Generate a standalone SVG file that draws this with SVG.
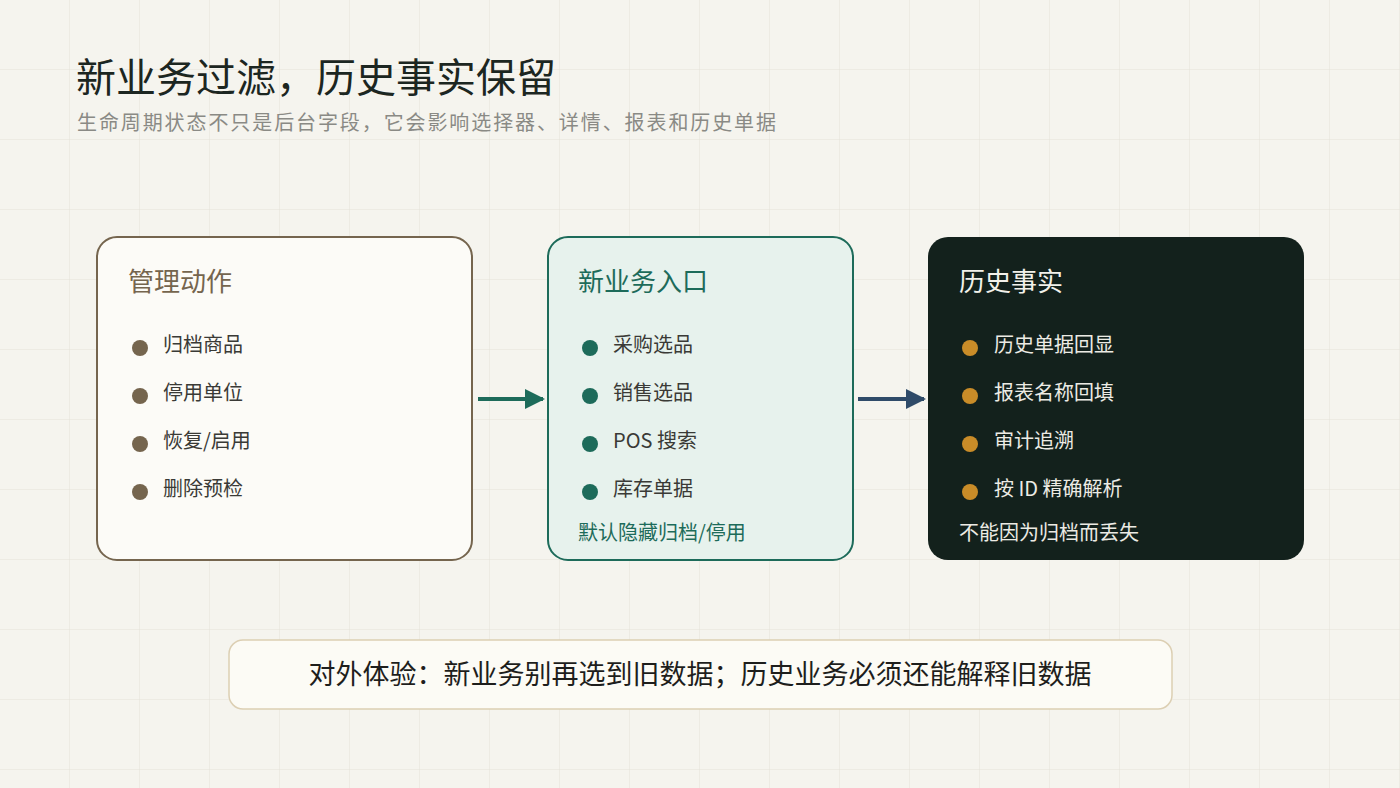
<svg xmlns="http://www.w3.org/2000/svg" width="1400" height="788" viewBox="0 0 1400 788">
<defs>
<pattern id="grid" x="0" y="0" width="70" height="70" patternUnits="userSpaceOnUse">
<path d="M70 0 V70 M0 70 H70" fill="none" stroke="#e4e2d9" stroke-width="1"/>
</pattern>
<marker id="ah-teal" viewBox="0 0 10 10" refX="9" refY="5" markerWidth="5" markerHeight="5" orient="auto" markerUnits="strokeWidth">
<path d="M0 0 L10 5 L0 10 Z" fill="#1d6b5a"/>
</marker>
<marker id="ah-blue" viewBox="0 0 10 10" refX="9" refY="5" markerWidth="5" markerHeight="5" orient="auto" markerUnits="strokeWidth">
<path d="M0 0 L10 5 L0 10 Z" fill="#2f4b69"/>
</marker>
</defs>
<style>
text { font-family: "Noto Sans CJK SC", "Noto Sans", sans-serif; }
.title { font-size: 40px; fill: #1c2621; }
.sub { font-size: 20px; fill: #8a8a85; }
.ctitle { font-size: 26px; }
.item { font-size: 20px; fill: #3a3a36; }
.item-d { font-size: 20px; fill: #ecebe4; }
.note { font-size: 20px; }
</style>
<rect width="1400" height="788" fill="#f5f4ee"/>
<rect width="1400" height="788" fill="url(#grid)"/>

<text class="title" x="76" y="92">新业务过滤，历史事实保留</text>
<text class="sub" x="77" y="130" textLength="699" lengthAdjust="spacing">生命周期状态不只是后台字段，它会影响选择器、详情、报表和历史单据</text>

<g id="connectors">
<line x1="478" y1="399" x2="543" y2="399" stroke="#1d6b5a" stroke-width="4" marker-end="url(#ah-teal)"/>
<line x1="858" y1="399" x2="924" y2="399" stroke="#2f4b69" stroke-width="4" marker-end="url(#ah-blue)"/>
</g>

<g id="node-admin">
<rect x="97" y="237" width="375" height="323" rx="20" fill="#fcfbf7" stroke="#75654e" stroke-width="2"/>
<text class="ctitle" x="128" y="291" fill="#75654e">管理动作</text>
<g fill="#75654e">
<circle cx="140" cy="348" r="8"/><circle cx="140" cy="396" r="8"/><circle cx="140" cy="444" r="8"/><circle cx="140" cy="492" r="8"/>
</g>
<text class="item" x="163" y="352">归档商品</text>
<text class="item" x="163" y="400">停用单位</text>
<text class="item" x="163" y="448">恢复/启用</text>
<text class="item" x="163" y="496">删除预检</text>
</g>

<g id="node-new">
<rect x="548" y="237" width="305" height="323" rx="20" fill="#e7f2ed" stroke="#1d6b5a" stroke-width="2"/>
<text class="ctitle" x="578" y="291" fill="#1d6b5a">新业务入口</text>
<g fill="#1d6b5a">
<circle cx="590" cy="348" r="8"/><circle cx="590" cy="396" r="8"/><circle cx="590" cy="444" r="8"/><circle cx="590" cy="492" r="8"/>
</g>
<text class="item" x="613" y="352">采购选品</text>
<text class="item" x="613" y="400">销售选品</text>
<text class="item" x="613" y="448">POS 搜索</text>
<text class="item" x="613" y="496">库存单据</text>
<text class="note" x="578" y="540" fill="#1d6b5a">默认隐藏归档/停用</text>
</g>

<g id="node-history">
<rect x="928" y="237" width="376" height="323" rx="20" fill="#13211c"/>
<text class="ctitle" x="959" y="291" fill="#f2f1ea">历史事实</text>
<g fill="#c98c28">
<circle cx="970" cy="348" r="8"/><circle cx="970" cy="396" r="8"/><circle cx="970" cy="444" r="8"/><circle cx="970" cy="492" r="8"/>
</g>
<text class="item-d" x="994" y="352">历史单据回显</text>
<text class="item-d" x="994" y="400">报表名称回填</text>
<text class="item-d" x="994" y="448">审计追溯</text>
<text class="item-d" x="994" y="496">按 ID 精确解析</text>
<text class="note" x="959" y="540" fill="#ecebe4">不能因为归档而丢失</text>
</g>

<g id="node-summary">
<rect x="229" y="640" width="943" height="69" rx="14" fill="#fcfbf5" stroke="#dccfb3" stroke-width="1.5"/>
<text x="700" y="684" text-anchor="middle" font-size="27" fill="#1e1e1c">对外体验：新业务别再选到旧数据；历史业务必须还能解释旧数据</text>
</g>
</svg>
